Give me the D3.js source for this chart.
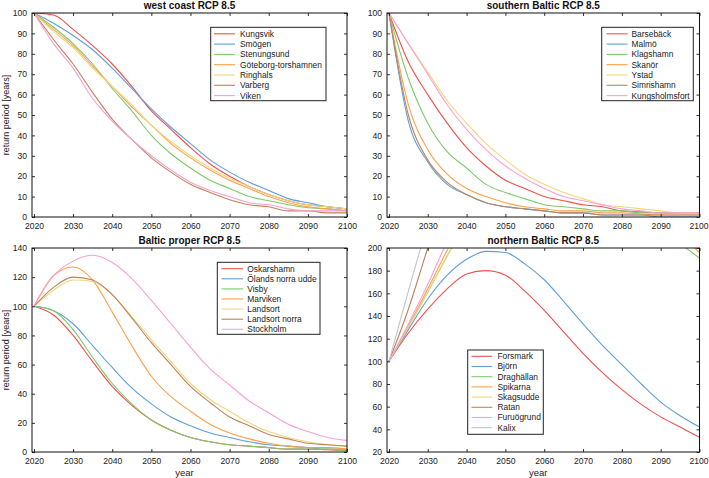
<!DOCTYPE html>
<html>
<head>
<meta charset="utf-8">
<script src="https://cdn.jsdelivr.net/npm/d3@7"></script>
<style>
  html, body { margin: 0; padding: 0; background: #fff; }
  svg { display: block; font-family: "Liberation Sans", Arial, Helvetica, sans-serif; }
</style>
</head>
<body>
<svg id="chart" width="709" height="478"></svg>
<script>
// ---------------- DATA ----------------
const years = [2020,2025,2030,2035,2040,2045,2050,2055,2060,2065,2070,2075,2080,2085,2090,2095,2100];
const xTicks = [2020,2030,2040,2050,2060,2070,2080,2090,2100];
const colors = ["#f0504f","#5e9fdb","#7ccb6b","#fba14a","#f0d77a","#c0825c","#f9a1d5","#c4c4c4"];

// west coast RCP 8.5
const westNames = ["Kungsvik","Smögen","Stenungsund","Göteborg-torshamnen","Ringhals","Varberg","Viken"];
const westKungsvik  = [100,99,92,84,75,64,52,43,34,26,20,15,11,8,6,5,4];
const westSmogen    = [100,95,89,82,73,63,53,44,36,28,22,17,13,9,7,5,4];
const westStenung   = [100,93,85,75,63,52,40,31,24,18,14,10,8,6,4.5,4,3];
const westGoteborg  = [100,92,84,74,64,54,45,36,29,23,18,14,10,7,5,4,3];
const westRinghals  = [100,91,83,73,64,55,45,37,30,24,19,15,11,8,6,5,4];
const westVarberg   = [100,87,75,61,48,38,29,22,16,12,8.5,6,5,3,3,2,2];
const westViken     = [100,85,73,58,47,38,30,23,17,13,10,7,6,4,3,3,3];
const westTicks = [0,10,20,30,40,50,60,70,80,90,100];

// southern Baltic RCP 8.5
const southNames = ["Barsebäck","Malmö","Klagshamn","Skanör","Ystad","Simrishamn","Kungsholmsfort"];
const southBarseback = [100,76,60,46,34,25,18,14,10,8,6,5,3,2.5,2,2,2];
const southMalmo     = [100,47,27,16,11,7,5,4,3,2,2,1,1,1,0,0,0];
const southKlagshamn = [100,68,46,32,24,16,12,9,6,5,4,3,3,2,2,2,2];
const southSkanor    = [100,55,33,21,14,10,7,5,4,3,3,2,2,1.5,1,1,1];
const southYstad     = [100,85,71,57,46,36,28,21,16,12,9,6,5,4,3,2,2];
const southSimris    = [100,50,28,17,11,7,5,4,3,2,2,1,1,1,1,1,1];
const southKungsholm = [100,85,70,55,43,33,25,19,14,10,8,6,4,3,2,2,2];
const southTicks = [0,10,20,30,40,50,60,70,80,90,100];

// Baltic proper RCP 8.5
const properNames = ["Oskarshamn","Ölands norra udde","Visby","Marviken","Landsort","Landsort norra","Stockholm"];
const properOskarshamn = [100,94,80,62,45,32,22,15,10,7,5,4,3,2,2,1.5,1];
const properOland      = [100,97,88,73,58,44,33,24,18,13,10,7,5,4,3,2,2];
const properVisby      = [100,97,84,65,47,33,22,15,10,7,5,4,3,2,2,2,0.5];
const properMarviken   = [100,121,127,118,96,73,52,38,28,19,13,9,6,4,3,3,2];
const properLandsort   = [100,111,118,117,108,93,77,62,47,36,28,20,14,10,7,5,4];
const properLandsortN  = [100,113,120,118,108,92,75,60,45,34,24,18,12,9,6,5,4];
const properStockholm  = [100,121,131,135,130,119,104,88,72,57,46,35,27,19,14,10,8];
const properTicks = [0,20,40,60,80,100,120,140];

// northern Baltic RCP 8.5 (values above 200 are outside the visible range)
const northNames = ["Forsmark","Björn","Draghällan","Spikarna","Skagsudde","Ratan","Furuögrund","Kalix"];
const northForsmark  = [100,125,146,164,177,180,176,162,145,126,107,90,75,62,51,42,33];
const northBjorn     = [100,128,155,176,190,197,196,186,172,153,133,114,97,80,64,52,42];
const northDraghall  = [100,130,161,193,222,245,256,260,258,252,244,234,225,216,208,203,191];
const northSpikarna  = [100,131,164,198,230,252,265,270,268,262,254,245,235,226,218,210,196];
const northSkagsudde = [100,130,161,193,224,248,262,268,268,263,256,248,240,232,225,218,212];
const northRatan     = [100,146,200,252,295,320,335,340,338,332,322,310,298,285,272,260,248];
const northFuruo     = [100,133,168,206,240,265,280,285,284,278,270,260,250,240,230,222,214];
const northKalix     = [100,162,222,280,320,345,360,365,362,355,345,333,320,307,295,283,272];
const northTicks = [20,40,60,80,100,120,140,160,180,200];

// ---------------- DRAWING ----------------
const svg = d3.select("#chart");

const panels = [
  { title: "west coast RCP 8.5", names: westNames,
    series: [westKungsvik,westSmogen,westStenung,westGoteborg,westRinghals,westVarberg,westViken],
    yDomain: [0,100], yTicks: westTicks,
    box: {x0:32, x1:347, y0:13, y1:217}, ylabel: true, xlabel: false,
    legend: {x:210.7, y:27.3, w:115.3, h:73.4, row0:33.8, dy:10.3, l0:214, l1:235, tx:240} },
  { title: "southern Baltic RCP 8.5", names: southNames,
    series: [southBarseback,southMalmo,southKlagshamn,southSkanor,southYstad,southSimris,southKungsholm],
    yDomain: [0,100], yTicks: southTicks,
    box: {x0:387, x1:699.5, y0:13, y1:217}, ylabel: false, xlabel: false,
    legend: {x:601.7, y:27.3, w:91.6, h:73.4, row0:33.8, dy:10.3, l0:606.5, l1:627.5, tx:631.5} },
  { title: "Baltic proper RCP 8.5", names: properNames,
    series: [properOskarshamn,properOland,properVisby,properMarviken,properLandsort,properLandsortN,properStockholm],
    yDomain: [0,140], yTicks: properTicks,
    box: {x0:32, x1:347, y0:248, y1:452}, ylabel: true, xlabel: true,
    legend: {x:217.3, y:262.3, w:102.7, h:72, row0:268.7, dy:10.1, l0:221.5, l1:243, tx:247.3} },
  { title: "northern Baltic RCP 8.5", names: northNames,
    series: [northForsmark,northBjorn,northDraghall,northSpikarna,northSkagsudde,northRatan,northFuruo,northKalix],
    yDomain: [20,200], yTicks: northTicks,
    box: {x0:387, x1:699.5, y0:248, y1:452}, ylabel: false, xlabel: true,
    legend: {x:467.7, y:350, w:75.6, h:84.3, row0:356.3, dy:10.2, l0:471.5, l1:492.3, tx:497.5} }
];

panels.forEach((p, pi) => {
  const b = p.box;
  const x = d3.scaleLinear().domain([2019.5, 2100]).range([b.x0, b.x1]);
  const y = d3.scaleLinear().domain(p.yDomain).range([b.y1, b.y0]);
  const g = svg.append("g");

  const clipId = "clip" + pi;
  svg.append("defs").append("clipPath").attr("id", clipId)
    .append("rect").attr("x", b.x0).attr("y", b.y0)
    .attr("width", b.x1 - b.x0).attr("height", b.y1 - b.y0);

  // lines
  const line = d3.line().x((d, i) => x(years[i])).y(d => y(d)).curve(d3.curveMonotoneX);
  const lg = g.append("g").attr("clip-path", `url(#${clipId})`);
  p.series.forEach((s, si) => {
    lg.append("path").datum(s).attr("d", line)
      .attr("fill", "none").attr("stroke", colors[si]).attr("stroke-width", 1.1);
  });

  // axes (inward ticks, box)
  const tickLen = 3;
  const axB = d3.axisBottom(x).tickValues(xTicks).tickFormat(d3.format("d")).tickSizeInner(-tickLen).tickSizeOuter(0).tickPadding(6);
  const axT = d3.axisTop(x).tickValues(xTicks).tickFormat("").tickSizeInner(-tickLen).tickSizeOuter(0);
  const axL = d3.axisLeft(y).tickValues(p.yTicks).tickFormat(d3.format("d")).tickSizeInner(-tickLen).tickSizeOuter(0).tickPadding(5);
  const axR = d3.axisRight(y).tickValues(p.yTicks).tickFormat("").tickSizeInner(-tickLen).tickSizeOuter(0);

  const gb = g.append("g").attr("transform", `translate(0,${b.y1})`).call(axB);
  const gt = g.append("g").attr("transform", `translate(0,${b.y0})`).call(axT);
  const gl = g.append("g").attr("transform", `translate(${b.x0},0)`).call(axL);
  const gr = g.append("g").attr("transform", `translate(${b.x1},0)`).call(axR);
  [gb, gt, gl, gr].forEach(a => {
    a.select(".domain").remove();
    a.selectAll(".tick line").attr("stroke", "#333");
    a.selectAll(".tick text").attr("font-size", 8.6).attr("fill", "#222")
      .attr("font-family", "'Liberation Sans', Arial, sans-serif");
  });
  // keep the last x label inside the window
  gb.selectAll(".tick text").filter(d => d === 2100 && b.x1 > 690).attr("dx", -1);

  // frame
  g.append("rect").attr("x", b.x0).attr("y", b.y0)
    .attr("width", b.x1 - b.x0).attr("height", b.y1 - b.y0)
    .attr("fill", "none").attr("stroke", "#111").attr("stroke-width", 1);

  // title
  g.append("text").attr("x", (b.x0 + b.x1) / 2).attr("y", b.y0 - 4)
    .attr("text-anchor", "middle").attr("font-size", 10).attr("font-weight", "bold")
    .attr("fill", "#111").text(p.title);

  if (p.ylabel) {
    g.append("text").attr("transform", `translate(9,${(b.y0 + b.y1) / 2}) rotate(-90)`)
      .attr("text-anchor", "middle").attr("font-size", 9).attr("fill", "#222")
      .text("return period [years]");
  }
  if (p.xlabel) {
    g.append("text").attr("x", (b.x0 + b.x1) / 2 - 5).attr("y", b.y1 + 24)
      .attr("text-anchor", "middle").attr("font-size", 9.5).attr("fill", "#222")
      .text("year");
  }

  // legend
  const L = p.legend;
  const leg = g.append("g");
  leg.append("rect").attr("x", L.x).attr("y", L.y).attr("width", L.w).attr("height", L.h)
    .attr("fill", "#fff").attr("stroke", "#222").attr("stroke-width", 1);
  p.names.forEach((n, i) => {
    const yy = L.row0 + i * L.dy;
    leg.append("line").attr("x1", L.l0).attr("x2", L.l1).attr("y1", yy).attr("y2", yy)
      .attr("stroke", colors[i]).attr("stroke-width", 1.1);
    leg.append("text").attr("x", L.tx).attr("y", yy).attr("dy", "0.35em")
      .attr("font-size", 8.4).attr("fill", "#222").text(n);
  });
});
</script>
</body>
</html>
